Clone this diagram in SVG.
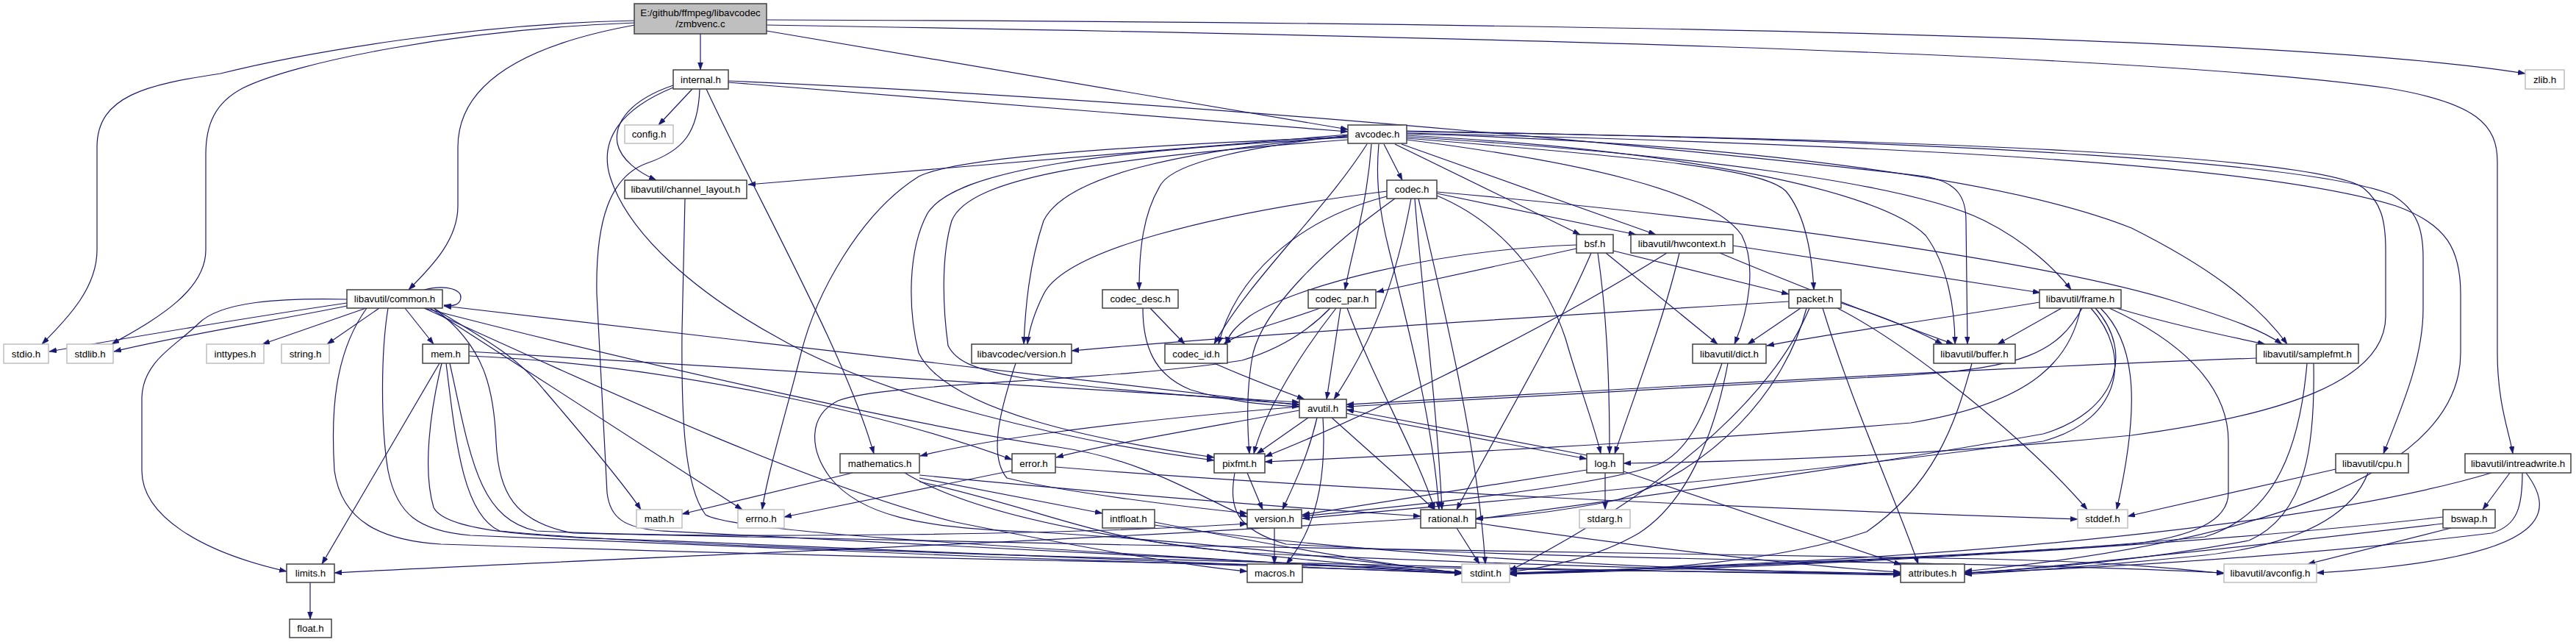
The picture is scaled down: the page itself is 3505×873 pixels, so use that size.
<svg xmlns="http://www.w3.org/2000/svg" width="3505" height="873" viewBox="0 0 3505 873">
<defs>
<marker id="a" markerUnits="userSpaceOnUse" markerWidth="11" markerHeight="8" refX="10" refY="3.5" orient="auto"><path d="M0,0 L10,3.5 L0,7 Z" fill="#191970" stroke="#191970" stroke-width="0.5"/></marker>
</defs>
<style>
.e path{fill:none;stroke:#191970;stroke-width:1.2;marker-end:url(#a)}
.n rect{fill:#fff;stroke:#404040;stroke-width:1.5}
.u rect{fill:#fff;stroke:#bfbfbf;stroke-width:1.5}
.r rect{fill:#bfbfbf;stroke:#404040;stroke-width:1.5}
text{font-family:"Liberation Sans",Arial,sans-serif;font-size:13.33px;text-anchor:middle;fill:#000}
</style>
<rect width="3505" height="873" fill="#fff"/>
<g id="edges" class="e">
<path d="M953,46 L953,95"/>
<path d="M864,28 C650,32 420,70 300,100 C200,115 132,130 132,200 L132,340 C132,390 95,430 57,468"/>
<path d="M864,31 C620,40 400,85 330,120 C292,140 280,170 280,210 L280,340 C280,400 200,440 152,468"/>
<path d="M864,34 C720,60 623,110 623,200 L623,280 C623,325 590,360 556,394"/>
<path d="M1043,42 L1834,176"/>
<path d="M1043,27 C2000,30 3100,45 3436,100"/>
<path d="M1043,34 C1900,48 2900,70 3250,120 C3370,140 3398,170 3398,220 L3398,480 C3398,550 3415,590 3419,617"/>
<path d="M942,121 L896,170"/>
<path d="M916,116 C860,135 835,165 840,195 C845,218 870,235 893,245"/>
<path d="M916,119 C845,148 815,190 830,240 C855,320 950,400 1060,460 C1200,540 1450,600 1652,626"/>
<path d="M952,121 C950,180 930,205 880,222 C830,240 810,300 812,400 L826,670 C830,705 850,718 900,722 C1300,740 1700,765 1989,778"/>
<path d="M961,121 C1030,270 1150,480 1189,617"/>
<path d="M991,112 L1834,179"/>
<path d="M991,110 C1700,140 2450,220 2620,240 C2665,248 2675,270 2675,300 L2677,468"/>
<path d="M1834,186 C1500,200 1300,215 1250,240 C1170,290 1110,400 1090,480 C1070,560 1045,640 1037,693"/>
<path d="M1914,182 C2400,195 2750,250 2900,310 C3000,360 3070,410 3112,468"/>
<path d="M1914,181 C2700,200 3100,230 3260,280 C3330,305 3348,340 3348,400 L3348,480 C3348,650 3050,740 2673,777"/>
<path d="M1834,190 C1500,215 1320,240 1295,300 C1280,350 1283,420 1290,470 C1310,510 1380,520 1768,550"/>
<path d="M1914,184 C2300,205 2560,260 2620,320 C2650,360 2660,420 2660,468"/>
<path d="M1914,178 C2700,192 3150,222 3255,265 C3288,285 3297,310 3297,350 L3297,420 C3297,490 3265,560 3243,617"/>
<path d="M1834,183 L1018,251"/>
<path d="M1914,190 C2150,220 2330,260 2370,320 C2390,360 2380,420 2360,468"/>
<path d="M1914,186 C2300,210 2600,250 2700,300 C2760,330 2800,370 2818,394"/>
<path d="M1907,196 L2253,319"/>
<path d="M1914,179 C2650,190 3150,212 3215,255 C3240,275 3246,300 3246,340 L3246,430 C3246,520 3100,565 2900,592 C2600,622 2350,628 2209,630"/>
<path d="M1834,187 C1500,205 1300,230 1262,290 C1235,340 1235,420 1250,480 C1290,560 1500,600 1652,622"/>
<path d="M1876,196 C1872,240 1875,280 1890,340 C1920,460 1950,580 1958,693"/>
<path d="M1898,196 L2150,319"/>
<path d="M1883,196 L1908,245"/>
<path d="M1834,184 C1700,200 1600,220 1580,250 C1555,290 1550,340 1550,394"/>
<path d="M1866,196 C1860,280 1840,340 1830,394"/>
<path d="M1860,196 C1800,290 1700,380 1652,468"/>
<path d="M1914,188 C2250,215 2400,230 2430,260 C2455,290 2465,340 2468,394"/>
<path d="M1834,185 C1600,205 1450,240 1420,300 C1400,360 1395,420 1393,468"/>
<path d="M1930,270 C1960,400 2010,600 2021,767"/>
<path d="M1920,270 C1900,380 1870,460 1815,543"/>
<path d="M1955,263 L2226,319"/>
<path d="M1955,266 C2060,310 2110,400 2130,460 C2150,530 2170,580 2178,617"/>
<path d="M1898,270 C1800,340 1720,420 1705,480 C1695,530 1697,580 1700,617"/>
<path d="M1925,270 C1935,400 1955,550 1962,693"/>
<path d="M1955,261 C2400,300 2800,360 2960,410 C3040,435 3080,450 3105,468"/>
<path d="M1887,267 C1760,300 1680,380 1658,468"/>
<path d="M1887,260 C1650,290 1450,340 1420,400 C1405,430 1400,450 1398,468"/>
<path d="M1555,419 C1555,470 1570,510 1620,530 C1680,548 1720,550 1768,553"/>
<path d="M1565,419 L1612,468"/>
<path d="M1652,494 C1700,515 1740,530 1775,543"/>
<path d="M1810,419 C1780,450 1740,475 1690,490 C1500,520 1200,520 1140,545 C1100,565 1100,610 1130,650 C1170,700 1250,718 1400,723 C1700,740 1900,770 1989,779"/>
<path d="M1824,419 L1805,543"/>
<path d="M1833,419 C1870,520 1930,620 1952,693"/>
<path d="M1818,419 C1770,480 1720,560 1706,617"/>
<path d="M1796,419 C1740,440 1690,450 1665,468"/>
<path d="M2185,344 L2337,468"/>
<path d="M2174,344 C2185,420 2190,500 2190,617"/>
<path d="M2165,344 C2120,450 2030,600 1982,693"/>
<path d="M2145,333 C1950,340 1760,390 1700,430 C1680,445 1672,455 1668,468"/>
<path d="M2145,338 L1873,397"/>
<path d="M2195,341 L2434,400"/>
<path d="M2500,419 C2600,470 2760,600 2840,693"/>
<path d="M2462,419 C2420,520 2300,650 2054,776"/>
<path d="M2480,419 C2520,550 2580,680 2610,767"/>
<path d="M2505,412 C2560,430 2610,450 2643,468"/>
<path d="M2450,419 L2378,468"/>
<path d="M2458,419 C2430,530 2330,640 2200,680 C2100,700 2040,703 2008,705"/>
<path d="M2434,410 C2100,430 1700,455 1458,477"/>
<path d="M1382,494 C1360,560 1345,620 1370,650 C1450,670 1620,690 1697,698"/>
<path d="M2340,344 C2450,390 2580,440 2658,468"/>
<path d="M2358,334 L2776,398"/>
<path d="M2285,344 C2265,430 2230,520 2197,617"/>
<path d="M2268,344 C2100,450 1850,570 1721,621"/>
<path d="M2858,419 C2910,470 2910,560 2880,693"/>
<path d="M2870,419 C2960,460 3032,520 3032,600 L3032,670 C3032,710 2980,730 2900,740 C2600,760 2300,772 2054,780"/>
<path d="M2833,419 C2800,480 2750,500 2600,510 C2300,525 2000,545 1832,553"/>
<path d="M2805,419 L2718,468"/>
<path d="M2775,411 C2600,440 2480,455 2404,470"/>
<path d="M2851,419 C2905,480 2880,560 2780,590 C2500,640 2200,680 2008,706"/>
<path d="M2880,419 C2950,440 3020,455 3082,468"/>
<path d="M2831,419 C2815,500 2750,550 2600,575 C2300,600 1900,620 1721,628"/>
<path d="M2845,419 C2900,480 2890,570 2780,600 C2400,650 2000,685 1772,705"/>
<path d="M2351,494 C2335,580 2300,680 2230,725 C2170,760 2100,772 2054,778"/>
<path d="M2343,494 C2320,560 2300,610 2260,630 C2200,655 2000,680 1772,702"/>
<path d="M2683,494 C2660,580 2630,660 2540,723 C2400,770 2200,778 2054,780"/>
<path d="M3139,494 C3130,600 3100,700 3000,730 C2700,760 2300,772 2054,779"/>
<path d="M3070,487 C2700,500 2200,530 1832,550"/>
<path d="M3148,494 C3150,600 3140,700 3060,735 C2900,765 2750,775 2673,779"/>
<path d="M3178,638 L2895,702"/>
<path d="M3222,643 C3200,700 3130,740 3000,755 C2850,770 2750,777 2673,781"/>
<path d="M3390,643 C3200,700 2800,750 2300,770 C2150,777 2080,779 2054,781"/>
<path d="M3437,643 C3480,700 3470,760 3152,779"/>
<path d="M3432,643 C3432,690 3425,715 3390,725 C3100,760 2800,775 2673,779"/>
<path d="M3415,643 L3378,693"/>
<path d="M3324,703 C3000,740 2500,770 2054,781"/>
<path d="M3335,718 L3140,767"/>
<path d="M3324,712 C3000,750 2800,770 2673,780"/>
<path d="M1768,551 L604,416"/>
<path d="M1768,558 C1650,580 1500,605 1437,622"/>
<path d="M1768,553 C1500,575 1330,600 1252,620"/>
<path d="M1780,568 L1710,617"/>
<path d="M1792,568 C1780,620 1760,660 1745,693"/>
<path d="M1800,568 C1805,650 1790,720 1750,767"/>
<path d="M1812,568 L1952,693"/>
<path d="M1831,562 L2159,624"/>
<path d="M2159,619 L1832,557"/>
<path d="M472,412 C350,430 200,455 67,478"/>
<path d="M472,416 C380,435 250,455 155,478"/>
<path d="M472,407 C380,405 300,410 270,440 C240,470 195,490 193,540 L193,640 C193,700 270,750 390,777"/>
<path d="M498,419 L357,468"/>
<path d="M516,419 L445,468"/>
<path d="M590,419 C640,450 700,480 740,530 C800,600 850,660 872,693"/>
<path d="M585,419 L1010,693"/>
<path d="M551,419 L590,468"/>
<path d="M528,419 C518,480 518,580 528,640 C540,700 570,722 640,728 C1000,745 1600,768 1989,779"/>
<path d="M499,419 C455,480 450,560 455,640 C465,710 520,735 600,740 C1200,760 2000,775 2586,780"/>
<path d="M590,419 C660,470 672,530 675,600 C678,670 700,710 780,725 C1400,740 2300,755 2700,760 C2900,765 2980,775 3026,780"/>
<path d="M577,419 C800,520 1100,660 1300,710 C1500,750 1620,770 1697,777"/>
<path d="M577,419 C850,490 1250,580 1440,608 C1560,625 1640,680 1697,703"/>
<path d="M577,394 C610,386 628,395 627,405 C626,414 618,417 604,415"/>
<path d="M598,494 L438,767"/>
<path d="M601,494 C585,560 575,640 590,690 C605,720 700,730 900,735 C1300,750 1700,768 1989,780"/>
<path d="M607,494 C620,600 630,700 680,722 C900,745 1800,770 2586,782"/>
<path d="M612,494 C640,620 650,705 730,722 C1000,735 1500,725 1697,712"/>
<path d="M638,484 C900,495 1200,560 1377,625"/>
<path d="M638,478 L1768,547"/>
<path d="M1377,640 L1067,703"/>
<path d="M1436,635 C1800,665 2400,692 2827,706"/>
<path d="M1160,643 L928,699"/>
<path d="M1251,650 L1500,698"/>
<path d="M1251,646 C1500,670 1750,690 1933,702"/>
<path d="M1231,643 C1350,715 1600,750 1989,779"/>
<path d="M1251,655 C1450,700 1480,735 1700,752 C2100,770 2400,777 2586,780"/>
<path d="M1571,710 C1750,745 1900,770 1989,779"/>
<path d="M1571,714 C1900,760 2300,775 2586,781"/>
<path d="M1697,643 L1718,693"/>
<path d="M1680,643 C1672,690 1680,720 1750,740 C2200,765 2700,762 3026,779"/>
<path d="M1734,718 L1734,767"/>
<path d="M1982,718 L2013,767"/>
<path d="M1933,705 C1400,740 800,760 455,779"/>
<path d="M2008,711 C2200,740 2450,770 2586,778"/>
<path d="M2184,643 L2184,693"/>
<path d="M2159,639 L1772,700"/>
<path d="M2209,641 L2587,768"/>
<path d="M422,792 L422,842"/>
<path d="M932,270 L928,450 C927,560 930,660 960,700 C1000,725 1400,745 1989,780"/>
</g>
<g id="zmbvenc" class="r"><rect x="863" y="5" width="180" height="41"/><text x="953" y="21.5">E:/github/ffmpeg/libavcodec</text><text x="953" y="37">/zmbvenc.c</text></g>
<g id="internal" class="n"><rect x="916" y="95" width="75" height="26"/><text x="953.5" y="112.5">internal.h</text></g>
<g id="zlib" class="u"><rect x="3436" y="95" width="53" height="26"/><text x="3462.5" y="112.5">zlib.h</text></g>
<g id="config" class="u"><rect x="850" y="170" width="66" height="25"/><text x="883" y="187">config.h</text></g>
<g id="avcodec" class="n"><rect x="1834" y="170" width="80" height="25"/><text x="1874" y="187">avcodec.h</text></g>
<g id="channel_layout" class="n"><rect x="850" y="245" width="166" height="25"/><text x="933" y="262">libavutil/channel_layout.h</text></g>
<g id="codec" class="n"><rect x="1887" y="245" width="68" height="25"/><text x="1921" y="262">codec.h</text></g>
<g id="bsf" class="n"><rect x="2145" y="319" width="50" height="25"/><text x="2170" y="336">bsf.h</text></g>
<g id="hwcontext" class="n"><rect x="2219" y="319" width="139" height="25"/><text x="2288.5" y="336">libavutil/hwcontext.h</text></g>
<g id="common" class="n"><rect x="472" y="394" width="130" height="25"/><text x="537" y="411">libavutil/common.h</text></g>
<g id="codec_desc" class="n"><rect x="1500" y="394" width="103" height="25"/><text x="1551.5" y="411">codec_desc.h</text></g>
<g id="codec_par" class="n"><rect x="1780" y="394" width="92" height="25"/><text x="1826" y="411">codec_par.h</text></g>
<g id="packet" class="n"><rect x="2434" y="394" width="71" height="25"/><text x="2469.5" y="411">packet.h</text></g>
<g id="frame" class="n"><rect x="2775" y="394" width="111" height="25"/><text x="2830.5" y="411">libavutil/frame.h</text></g>
<g id="stdio" class="u"><rect x="5" y="468" width="61" height="26"/><text x="35.5" y="485.5">stdio.h</text></g>
<g id="stdlib" class="u"><rect x="91" y="468" width="63" height="26"/><text x="122.5" y="485.5">stdlib.h</text></g>
<g id="inttypes" class="u"><rect x="281" y="468" width="78" height="26"/><text x="320" y="485.5">inttypes.h</text></g>
<g id="string" class="u"><rect x="383" y="468" width="65" height="26"/><text x="415.5" y="485.5">string.h</text></g>
<g id="mem" class="n"><rect x="575" y="468" width="63" height="26"/><text x="606.5" y="485.5">mem.h</text></g>
<g id="lavc_version" class="n"><rect x="1322" y="468" width="136" height="26"/><text x="1390" y="485.5">libavcodec/version.h</text></g>
<g id="codec_id" class="n"><rect x="1585" y="468" width="85" height="26"/><text x="1627.5" y="485.5">codec_id.h</text></g>
<g id="dict" class="n"><rect x="2303" y="468" width="100" height="26"/><text x="2353" y="485.5">libavutil/dict.h</text></g>
<g id="buffer" class="n"><rect x="2631" y="468" width="111" height="26"/><text x="2686.5" y="485.5">libavutil/buffer.h</text></g>
<g id="samplefmt" class="n"><rect x="3070" y="468" width="139" height="26"/><text x="3139.5" y="485.5">libavutil/samplefmt.h</text></g>
<g id="avutil" class="n"><rect x="1768" y="543" width="64" height="25"/><text x="1800" y="560">avutil.h</text></g>
<g id="mathematics" class="n"><rect x="1143" y="617" width="108" height="26"/><text x="1197" y="634.5">mathematics.h</text></g>
<g id="error" class="n"><rect x="1377" y="617" width="59" height="26"/><text x="1406.5" y="634.5">error.h</text></g>
<g id="pixfmt" class="n"><rect x="1652" y="617" width="69" height="26"/><text x="1686.5" y="634.5">pixfmt.h</text></g>
<g id="log" class="n"><rect x="2159" y="617" width="50" height="26"/><text x="2184" y="634.5">log.h</text></g>
<g id="cpu" class="n"><rect x="3178" y="617" width="99" height="26"/><text x="3227.5" y="634.5">libavutil/cpu.h</text></g>
<g id="intreadwrite" class="n"><rect x="3354" y="617" width="144" height="26"/><text x="3426" y="634.5">libavutil/intreadwrite.h</text></g>
<g id="math" class="u"><rect x="866" y="693" width="62" height="25"/><text x="897" y="710">math.h</text></g>
<g id="errno" class="u"><rect x="1004" y="693" width="63" height="25"/><text x="1035.5" y="710">errno.h</text></g>
<g id="intfloat" class="n"><rect x="1500" y="693" width="71" height="25"/><text x="1535.5" y="710">intfloat.h</text></g>
<g id="version" class="n"><rect x="1697" y="693" width="74" height="25"/><text x="1734" y="710">version.h</text></g>
<g id="rational" class="n"><rect x="1933" y="693" width="75" height="25"/><text x="1970.5" y="710">rational.h</text></g>
<g id="stdarg" class="u"><rect x="2149" y="693" width="69" height="25"/><text x="2183.5" y="710">stdarg.h</text></g>
<g id="stddef" class="u"><rect x="2827" y="693" width="68" height="25"/><text x="2861" y="710">stddef.h</text></g>
<g id="bswap" class="n"><rect x="3324" y="693" width="71" height="25"/><text x="3359.5" y="710">bswap.h</text></g>
<g id="limits" class="n"><rect x="390" y="767" width="65" height="25"/><text x="422.5" y="784">limits.h</text></g>
<g id="macros" class="n"><rect x="1697" y="767" width="75" height="25"/><text x="1734.5" y="784">macros.h</text></g>
<g id="stdint" class="u"><rect x="1989" y="767" width="65" height="25"/><text x="2021.5" y="784">stdint.h</text></g>
<g id="attributes" class="n"><rect x="2586" y="767" width="87" height="25"/><text x="2629.5" y="784">attributes.h</text></g>
<g id="avconfig" class="u"><rect x="3026" y="767" width="126" height="25"/><text x="3089" y="784">libavutil/avconfig.h</text></g>
<g id="float" class="n"><rect x="394" y="842" width="57" height="25"/><text x="422.5" y="859">float.h</text></g>
</svg>
